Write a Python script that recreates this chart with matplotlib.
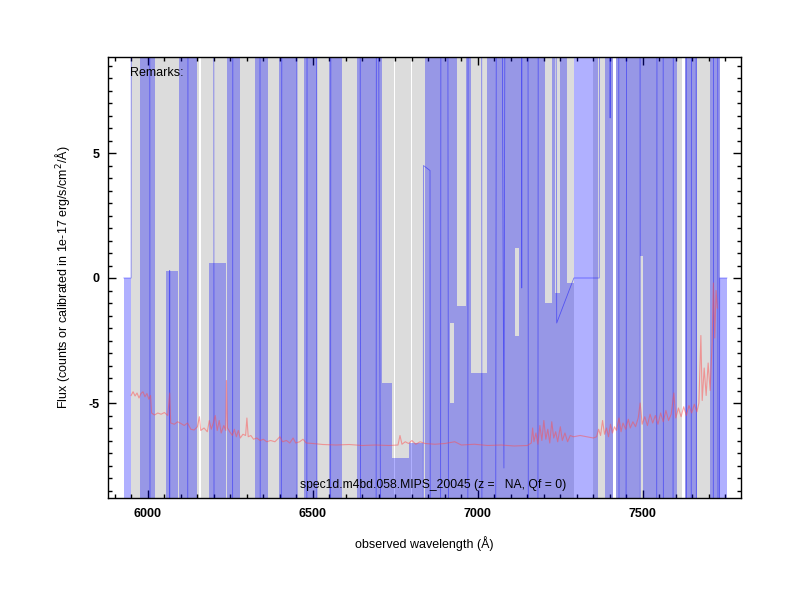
import matplotlib
matplotlib.use("Agg")
import matplotlib.pyplot as plt
from matplotlib.ticker import MultipleLocator

plt.rcParams['font.family'] = ['Liberation Sans', 'DejaVu Sans']
plt.rcParams['axes.unicode_minus'] = False

# gray error band segments (start, end) in Angstrom
gray_start = [5949, 6160, 6749, 6801, 7349, 7420, 7627]
gray_end = [6156, 6745, 6797, 7291, 7410, 7620, 7733]

# blue band pieces: left, right, low, high
band_left = [5927, 5976, 6055, 6094, 6185, 6240, 6324, 6397, 6473, 6549, 6633, 6709, 6740, 6790,
             6839, 6915, 6915, 6927, 6936, 6963, 6978, 7027, 7112, 7112, 7124, 7203, 7224, 7233,
             7249, 7270, 7291, 7385, 7420, 7491, 7500, 7627, 7703, 7733]
band_right = [5949, 6021, 6091, 6149, 6237, 6279, 6364, 6452, 6512, 6588, 6709, 6740, 6790, 6833,
              6915, 6927, 6927, 6936, 6963, 6978, 7027, 7112, 7124, 7124, 7203, 7224, 7233, 7249,
              7270, 7291, 7364, 7410, 7491, 7500, 7603, 7664, 7733, 7755]
band_lo = [-20, -20, -20, -20, -20, -20, -20, -20, -20, -20, -20, -20, -20, -20,
           -20, -20, -1.8, -20, -20, -20, -20, -20, -20, 1.2, -20, -20, -20, -20,
           -20, -20, -20, -20, -20, 0.9, -20, -20, -20, -20]
band_hi = [0, 20, 0.3, 20, 0.6, 20, 20, 20, 20, 20, 20, -4.2, -7.2, -6.6,
           20, -5.0, 20, 20, -1.1, 20, -3.8, 20, -2.3, 20, 20, -1.0, 20, -0.6,
           20, -0.2, 20, 20, 20, 20, 20, 20, 20, 0]

# observed flux
flux_wave = [5927, 5949, 5951, 6004, 6008, 6064, 6066, 6068, 6119, 6123, 6198, 6202, 6255, 6259,
             6338, 6342, 6400, 6410, 6450, 6454, 6480, 6484, 6510, 6514, 6552, 6556, 6640,
             6648, 6690, 6694, 6700, 6720, 6833, 6835, 6855, 6858, 6885, 6890, 6905, 6915,
             6968, 6972, 7010, 7014, 7050, 7060, 7079, 7090, 7130, 7133, 7136, 7150, 7155,
             7180, 7185, 7230, 7239, 7291, 7368, 7371, 7398, 7401, 7404, 7425, 7430, 7445,
             7455, 7490, 7494, 7540, 7545, 7560, 7564, 7590, 7594, 7630, 7634, 7645, 7649,
             7660, 7664, 7712, 7716, 7725, 7730, 7733, 7755]
flux = [0, 0, 60, 60, -60, -60, 0.3, -60, -60, 60, 60, -60, -60, 60,
        60, -60, -60, 60, 60, -60, -60, 60, 60, -60, -60, 60, 60,
        -60, -60, 60, 7.2, -60, -60, 4.5, 4.3, -60, -60, 60, 60, -60,
        -60, 60, 60, -60, -60, 60, -7.6, 60, 60, -0.4, 60, 60, -60,
        -60, 60, 60, -1.8, 0, 0, 60, 60, 6.4, 60, 60, -60, -60,
        60, 60, -60, -60, 60, 60, -60, -60, 60, 60, -60, -60, 60,
        60, -60, -60, 60, 60, -60, 0, 0]

# sky spectrum (scaled)
sky_wave = [5949, 5955, 5961, 5967, 5973, 5979, 5985, 5991, 5997, 6003, 6008, 6011, 6020, 6030,
            6040, 6050, 6060, 6066, 6069, 6080, 6090, 6100, 6110, 6120, 6130, 6140, 6150, 6156,
            6160, 6170, 6180, 6186, 6192, 6198, 6204, 6210, 6216, 6222, 6230, 6236, 6238, 6241,
            6248, 6256, 6262, 6268, 6274, 6280, 6288, 6296, 6300, 6304, 6312, 6320, 6330, 6340,
            6350, 6360, 6372, 6385, 6400, 6408, 6420, 6430, 6440, 6448, 6460, 6470, 6480, 6500,
            6530, 6570, 6610, 6650, 6690, 6730, 6758, 6764, 6770, 6780, 6790, 6800, 6812, 6825,
            6840, 6870, 6900, 6930, 6950, 6990, 7030, 7070, 7110, 7150, 7162, 7166, 7170, 7176,
            7182, 7188, 7194, 7200, 7206, 7212, 7218, 7224, 7230, 7236, 7242, 7250, 7256, 7264,
            7272, 7280, 7290, 7310, 7330, 7350, 7360, 7366, 7372, 7378, 7384, 7390, 7396, 7402,
            7408, 7414, 7420, 7428, 7434, 7440, 7448, 7456, 7462, 7470, 7478, 7486, 7492, 7498,
            7506, 7514, 7522, 7530, 7538, 7546, 7554, 7562, 7570, 7578, 7586, 7594, 7600, 7608,
            7616, 7624, 7632, 7640, 7648, 7656, 7664, 7670, 7676, 7680, 7686, 7692, 7698, 7704,
            7710, 7714, 7718, 7722, 7726]
sky = [-4.70, -4.55, -4.72, -4.60, -4.80, -4.62, -4.55, -4.75, -4.62, -4.85, -4.70, -5.40, -5.48, -5.40,
       -5.45, -5.38, -5.50, -4.60, -5.80, -5.85, -5.75, -5.82, -5.90, -5.80, -6.05, -6.08, -5.95, -5.55,
       -6.10, -6.00, -6.15, -5.70, -6.05, -5.80, -5.50, -6.10, -5.70, -6.20, -5.90, -6.10, -4.10, -6.00,
       -6.15, -6.30, -6.05, -6.35, -6.10, -6.40, -6.25, -6.30, -5.60, -6.35, -6.30, -6.45, -6.40, -6.50,
       -6.45, -6.55, -6.50, -6.55, -6.35, -6.55, -6.50, -6.60, -6.40, -6.60, -6.55, -6.45, -6.60, -6.62,
       -6.66, -6.68, -6.66, -6.70, -6.68, -6.70, -6.68, -6.30, -6.65, -6.55, -6.62, -6.50, -6.65, -6.55,
       -6.62, -6.65, -6.62, -6.55, -6.68, -6.65, -6.70, -6.68, -6.72, -6.70, -6.60, -6.00, -6.55, -6.20,
       -6.65, -5.90, -6.50, -5.70, -6.45, -6.05, -6.60, -5.75, -6.40, -6.15, -6.55, -5.95, -6.50, -6.20,
       -6.55, -6.30, -6.35, -6.30, -6.35, -6.40, -6.35, -6.05, -6.30, -5.70, -6.25, -6.00, -6.35, -5.85,
       -6.20, -5.95, -6.10, -5.60, -6.15, -5.80, -6.05, -5.65, -6.00, -5.75, -5.95, -5.60, -5.00, -5.85,
       -5.55, -5.90, -5.45, -5.80, -5.50, -5.85, -5.40, -5.75, -5.30, -5.70, -5.45, -4.60, -5.60, -5.20,
       -5.55, -5.15, -5.50, -5.10, -5.40, -5.05, -5.35, -5.00, -2.30, -4.90, -3.60, -4.70, -3.40, -4.50,
       -2.60, -0.20, -2.40, -0.50, -1.20]

xticks = [6000, 6500, 7000, 7500]
yticks = [-5, 0, 5]

fig = plt.figure(figsize=(8, 6), dpi=100)
ax = fig.add_axes([0.135, 0.17, 0.791, 0.735])

gw = [e - s for s, e in zip(gray_start, gray_end)]
ax.bar(gray_start, [40] * len(gw), width=gw, bottom=-20, align='edge',
       color='#dcdcdc', linewidth=0, zorder=1)

bw = [r - l for l, r in zip(band_left, band_right)]
bh = [h - l for l, h in zip(band_lo, band_hi)]
ax.bar(band_left, bh, width=bw, bottom=band_lo, align='edge',
       color='blue', alpha=0.31, linewidth=0, zorder=3)

ax.plot(flux_wave, flux, color='blue', lw=0.6, alpha=0.45, zorder=4)

# sky drawn on top, semi-transparent
ax.plot(sky_wave, sky, color='#ff4d4d', lw=0.8, alpha=0.5, zorder=5)

ax.set_xlim(5879, 7797)
ax.set_ylim(-8.8, 8.84)
ax.set_xticks(xticks)
ax.set_yticks(yticks)
ax.xaxis.set_minor_locator(MultipleLocator(50))
ax.yaxis.set_minor_locator(MultipleLocator(0.5))
ax.tick_params(which='both', direction='in', top=True, right=True, width=1)
ax.tick_params(which='major', length=6)
ax.tick_params(which='minor', length=3)
ax.tick_params(axis='x', which='major', pad=7)
ax.tick_params(axis='y', which='major', pad=6)
for lab in ax.get_xticklabels() + ax.get_yticklabels():
    lab.set_fontweight('bold')
    lab.set_fontsize(9)
for s in ax.spines.values():
    s.set_linewidth(1.0)
    s.set_zorder(6)

ax.set_xlabel('observed wavelength (Å)', fontsize=9, labelpad=12)
ax.set_ylabel('Flux (counts or calibrated in 1e-17 erg/s/cm$^2$/Å)', fontsize=9, labelpad=12)

ax.text(0.035, 0.963, 'Remarks:', transform=ax.transAxes, fontsize=9, va='center', zorder=7)
ax.text(0.513, 0.03, 'spec1d.m4bd.058.MIPS_20045 (z =   NA, Qf = 0)', transform=ax.transAxes,
        fontsize=8.7, ha='center', va='center', zorder=7)

fig.savefig('out.png', dpi=100)
